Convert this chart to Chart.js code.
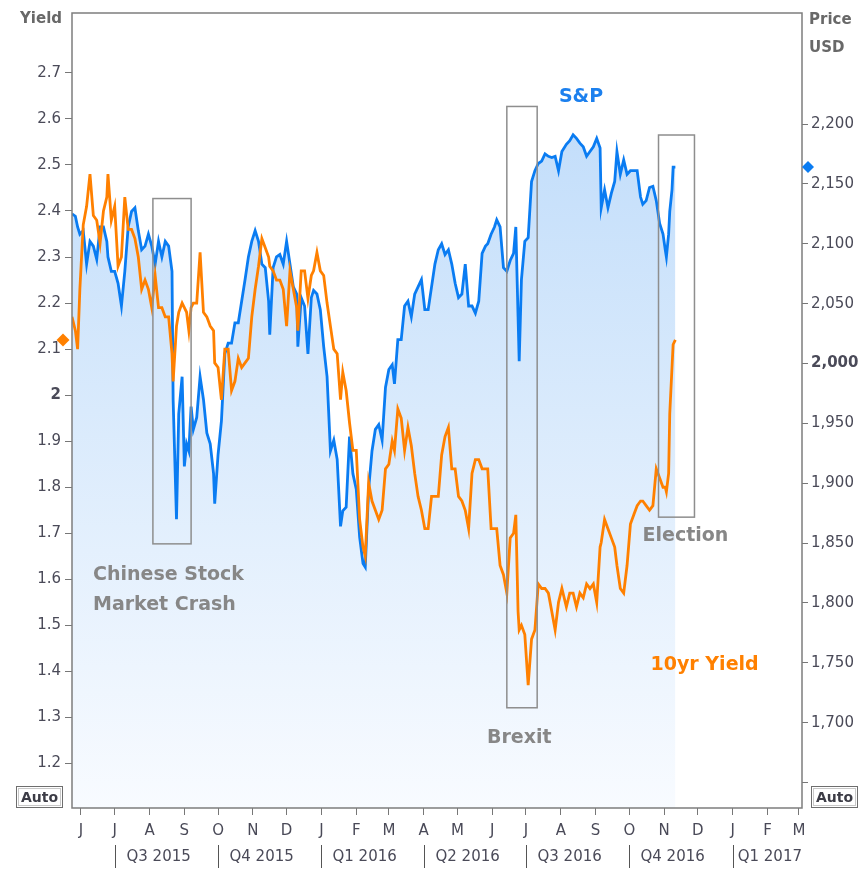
<!DOCTYPE html>
<html>
<head>
<meta charset="utf-8">
<script src="https://cdn.jsdelivr.net/npm/chart.js@4.4.1/dist/chart.umd.min.js"></script>
<style>
  html, body { margin: 0; padding: 0; background: #fff; }
</style>
</head>
<body>
<canvas id="bondChart" width="866" height="869"></canvas>
<script>
// trading days, counted as days from 1 Jun 2015
const dayOffsets = [
  -8, -5, -3, -1, 2, 5, 8, 11, 14, 17, 20, 23, 24, 27, 30, 33, 36, 39, 42, 45,
  48, 51, 54, 57, 60, 63, 66, 69, 72, 75, 78, 81, 82, 85, 87, 90, 92, 94, 96, 98,
  100, 103, 106, 109, 112, 115, 118, 119, 122, 125, 128, 131, 134, 137, 140, 143, 146, 149, 152, 155,
  158, 161, 164, 167, 168, 171, 174, 177, 180, 183, 186, 189, 192, 193, 196, 199, 202, 205, 207,
  210, 213, 216, 219, 222, 225, 228, 231, 233, 236, 239, 242, 245, 248, 251, 253, 256, 259, 262, 265,
  268, 271, 274, 277, 279, 282, 285, 288, 291, 294, 297, 300, 303, 306, 309, 312, 315, 318,
  321, 324, 327, 330, 333, 336, 339, 342, 345, 348, 351, 354, 357, 360, 362, 365, 368, 370, 373, 376,
  379, 382, 385, 387, 389, 390, 392, 395, 398, 401, 404, 407, 410, 413, 416, 419, 422, 425, 428,
  432, 435, 438, 441, 444, 447, 450, 453, 456, 459, 462, 463, 466, 469, 472, 475, 477, 480, 483, 486,
  489, 492, 495, 498, 500, 503, 506, 509, 512, 515, 518, 520, 521, 523, 524, 526, 527, 529
];

// US 10yr Treasury yield, %
const yield10y = [
  2.17, 2.14, 2.10, 2.23, 2.37, 2.41, 2.48, 2.39, 2.38, 2.33, 2.40, 2.43, 2.48, 2.38, 2.41, 2.28, 2.30, 2.43, 2.36, 2.36,
  2.34, 2.30, 2.23, 2.25, 2.23, 2.19, 2.26, 2.19, 2.19, 2.17, 2.17, 2.09, 2.03, 2.15, 2.18, 2.20, 2.19, 2.18, 2.14, 2.19,
  2.20, 2.20, 2.31, 2.18, 2.17, 2.15, 2.14, 2.07, 2.06, 1.99, 2.10, 2.10, 2.01, 2.03, 2.08, 2.06, 2.07, 2.08, 2.17, 2.23,
  2.28, 2.34, 2.32, 2.30, 2.28, 2.27, 2.25, 2.25, 2.23, 2.15, 2.27, 2.23, 2.19, 2.14, 2.27, 2.27, 2.21, 2.26, 2.27,
  2.31, 2.27, 2.26, 2.20, 2.15, 2.10, 2.09, 1.99, 2.05, 2.01, 1.94, 1.88, 1.88, 1.73, 1.67, 1.65, 1.81, 1.77, 1.75, 1.73,
  1.75, 1.84, 1.85, 1.90, 1.88, 1.97, 1.95, 1.88, 1.93, 1.89, 1.83, 1.78, 1.75, 1.71, 1.71, 1.78, 1.78, 1.78,
  1.87, 1.91, 1.93, 1.84, 1.84, 1.78, 1.77, 1.75, 1.71, 1.83, 1.86, 1.86, 1.84, 1.84, 1.84, 1.71, 1.71, 1.71, 1.63, 1.61,
  1.57, 1.69, 1.70, 1.74, 1.53, 1.49, 1.50, 1.48, 1.37, 1.47, 1.49, 1.59, 1.58, 1.58, 1.57, 1.53, 1.49, 1.55, 1.58,
  1.54, 1.57, 1.57, 1.54, 1.57, 1.56, 1.59, 1.58, 1.59, 1.55, 1.67, 1.68, 1.73, 1.71, 1.69, 1.67, 1.63, 1.58, 1.57, 1.63,
  1.72, 1.74, 1.76, 1.77, 1.77, 1.76, 1.75, 1.76, 1.84, 1.82, 1.80, 1.80, 1.79, 1.83, 1.96, 2.06, 2.11, 2.12
];

// S&P 500 close, USD
const spxClose = [
  2125, 2123, 2114, 2108, 2111, 2083, 2102, 2098, 2087, 2114, 2114, 2102, 2089, 2077, 2077, 2067, 2048, 2077, 2114, 2127,
  2130, 2111, 2095, 2098, 2108, 2098, 2083, 2102, 2089, 2102, 2098, 2077, 1970, 1870, 1958, 1989, 1914, 1933, 1927, 1964,
  1945, 1955, 1989, 1970, 1942, 1933, 1908, 1883, 1924, 1952, 2008, 2017, 2017, 2034, 2034, 2052, 2070, 2089, 2102, 2111,
  2102, 2083, 2080, 2052, 2024, 2080, 2089, 2091, 2083, 2102, 2083, 2064, 2058, 2014, 2055, 2048, 2008, 2055, 2061,
  2058, 2045, 2014, 1989, 1927, 1936, 1920, 1864, 1877, 1880, 1939, 1908, 1895, 1855, 1833, 1830, 1895, 1927, 1945, 1949,
  1936, 1980, 1995, 1999, 1983, 2020, 2020, 2048, 2052, 2039, 2058, 2064, 2070, 2045, 2045, 2064, 2083, 2095,
  2100, 2091, 2095, 2083, 2067, 2055, 2058, 2083, 2048, 2048, 2042, 2052, 2092, 2098, 2100, 2108, 2114, 2120, 2114, 2080,
  2077, 2086, 2092, 2114, 2039, 2002, 2070, 2102, 2105, 2152, 2161, 2167, 2169, 2175, 2173, 2172, 2173, 2161, 2177,
  2183, 2186, 2191, 2188, 2184, 2181, 2173, 2177, 2181, 2188, 2180, 2130, 2145, 2130, 2142, 2152, 2177, 2158, 2170, 2158,
  2161, 2161, 2161, 2139, 2133, 2136, 2147, 2148, 2136, 2117, 2108, 2095, 2089, 2108, 2127, 2145, 2164, 2164
];

const monthLabels = ['J', 'J', 'A', 'S', 'O', 'N', 'D', 'J', 'F', 'M', 'A', 'M', 'J', 'J', 'A', 'S', 'O', 'N', 'D', 'J', 'F', 'M'];
const quarterLabels = ['Q3 2015', 'Q4 2015', 'Q1 2016', 'Q2 2016', 'Q3 2016', 'Q4 2016', 'Q1 2017'];
const yieldTicks = [1.2, 1.3, 1.4, 1.5, 1.6, 1.7, 1.8, 1.9, 2, 2.1, 2.2, 2.3, 2.4, 2.5, 2.6, 2.7];
const priceTicks = [1650, 1700, 1750, 1800, 1850, 1900, 1950, 2000, 2050, 2100, 2150, 2200];

// event boxes, in days and yield
const eventBoxes = [
  { from: 64, to: 98, top: 2.427, bottom: 1.677 },
  { from: 379, to: 406, top: 2.627, bottom: 1.321 },
  { from: 514, to: 546, top: 2.565, bottom: 1.735 }
];
const notes = [
  { text: 'Chinese Stock', day: 10.7, level: 1.610, align: 'left', color: '#878787' },
  { text: 'Market Crash', day: 10.7, level: 1.545, align: 'left', color: '#878787' },
  { text: 'S&P', day: 445, level: 2.647, align: 'center', color: '#1c80ee' },
  { text: 'Brexit', day: 390, level: 1.256, align: 'center', color: '#878787' },
  { text: 'Election', day: 538, level: 1.694, align: 'center', color: '#878787' },
  { text: '10yr Yield', day: 555, level: 1.414, align: 'center', color: '#ff8000' }
];

const DAY = 86400000;
const base = Date.UTC(2015, 5, 1);
const monthStarts = monthLabels.map((m, i) => (Date.UTC(2015, 5 + i, 1) - base) / DAY);
const quarterStarts = quarterLabels.map((q, i) => (Date.UTC(2015, 6 + 3 * i, 1) - base) / DAY);

const tickColor = '#4a4a58';
const fontFam = 'DejaVu Sans';

function diamond(ctx, cx, cy, r, color) {
  ctx.fillStyle = color;
  ctx.beginPath();
  ctx.moveTo(cx, cy - r);
  ctx.lineTo(cx + r, cy);
  ctx.lineTo(cx, cy + r);
  ctx.lineTo(cx - r, cy);
  ctx.closePath();
  ctx.fill();
}

function autoBox(ctx, x, y) {
  ctx.strokeStyle = '#6e6e6e';
  ctx.lineWidth = 1;
  ctx.strokeRect(x + 0.5, y + 0.5, 46, 21);
  ctx.strokeStyle = '#c8c8c8';
  ctx.strokeRect(x + 2.5, y + 2.5, 42, 17);
  ctx.fillStyle = '#3c3c46';
  ctx.font = 'bold 14px ' + fontFam;
  ctx.textAlign = 'center';
  ctx.textBaseline = 'middle';
  ctx.fillText('Auto', x + 23.5, y + 12);
}

const overlay = {
  id: 'overlay',
  afterDatasetsDraw(chart) {
    const { ctx, chartArea: a, scales } = chart;
    const x = scales.x, yl = scales.yLeft, yr = scales.yRight;
    ctx.save();

    // plot frame
    ctx.strokeStyle = '#7d7d7d';
    ctx.lineWidth = 1.5;
    ctx.strokeRect(a.left, a.top, a.right - a.left, a.bottom - a.top);

    // event boxes
    ctx.strokeStyle = '#8e8e8e';
    ctx.lineWidth = 1.5;
    eventBoxes.forEach(b => {
      const x0 = x.getPixelForValue(b.from), x1 = x.getPixelForValue(b.to);
      const y0 = yl.getPixelForValue(b.top), y1 = yl.getPixelForValue(b.bottom);
      ctx.strokeRect(x0, y0, x1 - x0, y1 - y0);
    });

    // notes
    ctx.font = 'bold 19px ' + fontFam;
    ctx.textBaseline = 'middle';
    notes.forEach(n => {
      ctx.fillStyle = n.color;
      ctx.textAlign = n.align;
      ctx.fillText(n.text, x.getPixelForValue(n.day), yl.getPixelForValue(n.level));
    });

    // last value markers
    diamond(ctx, a.left - 9, yl.getPixelForValue(yield10y[yield10y.length - 1]), 6.5, '#ff8000');
    diamond(ctx, a.right + 6, yr.getPixelForValue(spxClose[spxClose.length - 1]), 6, '#0a7cf2');

    // quarter row
    ctx.font = '15px ' + fontFam;
    ctx.textAlign = 'left';
    ctx.textBaseline = 'middle';
    ctx.strokeStyle = '#555';
    ctx.lineWidth = 1;
    quarterStarts.forEach((q, i) => {
      const px = Math.round(x.getPixelForValue(q)) + 0.5;
      ctx.beginPath();
      ctx.moveTo(px, 845);
      ctx.lineTo(px, 868);
      ctx.stroke();
      const w = ctx.measureText(quarterLabels[i]).width;
      const tx = Math.min(px + 11, a.right - w);
      ctx.fillStyle = tickColor;
      ctx.fillText(quarterLabels[i], tx, 857);
    });

    // axis titles
    ctx.fillStyle = '#686868';
    ctx.font = 'bold 15px ' + fontFam;
    ctx.textAlign = 'left';
    ctx.fillText('Yield', 20, 19);
    ctx.fillText('Price', 809, 20);
    ctx.fillText('USD', 809, 48);

    autoBox(ctx, 16, 786);
    autoBox(ctx, 811, 786);
    ctx.restore();
  }
};

const ctx = document.getElementById('bondChart');

const bondChart = new Chart(ctx, {
  type: 'line',
  data: {
    datasets: [
      {
        label: '10yr Yield',
        data: dayOffsets.map((d, i) => ({ x: d, y: yield10y[i] })),
        yAxisID: 'yLeft',
        borderColor: '#ff8000',
        borderWidth: 2.8,
        pointRadius: 0,
        fill: false,
        order: 0
      },
      {
        label: 'S&P',
        data: dayOffsets.map((d, i) => ({ x: d, y: spxClose[i] })),
        yAxisID: 'yRight',
        borderColor: '#0a7cf2',
        borderWidth: 2.8,
        pointRadius: 0,
        fill: 'start',
        backgroundColor: c => {
          const area = c.chart.chartArea;
          if (!area) return 'rgba(200,225,250,0.6)';
          const g = c.chart.ctx.createLinearGradient(0, area.top, 0, area.bottom);
          g.addColorStop(0, 'rgb(186,217,250)');
          g.addColorStop(0.5, 'rgb(217,234,252)');
          g.addColorStop(1, 'rgb(248,251,255)');
          return g;
        },
        order: 1
      }
    ]
  },
  options: {
    responsive: false,
    animation: false,
    devicePixelRatio: 1,
    layout: { padding: { top: 6, left: 0, right: 0, bottom: 0 } },
    plugins: {
      legend: { display: false },
      tooltip: { enabled: false }
    },
    scales: {
      x: {
        type: 'linear',
        min: -8,
        max: 641.7,
        afterBuildTicks: s => { s.ticks = monthStarts.map(v => ({ value: v })); },
        afterFit: s => { s.height = 61; },
        ticks: {
          autoSkip: false,
          maxRotation: 0,
          padding: 7,
          color: tickColor,
          font: { family: fontFam, size: 15 },
          callback: (v, i) => monthLabels[i]
        },
        grid: { drawOnChartArea: false, tickLength: 7, color: '#777' },
        border: { display: false }
      },
      yLeft: {
        position: 'left',
        min: 1.1033,
        max: 2.83,
        afterBuildTicks: s => { s.ticks = yieldTicks.map(v => ({ value: v })); },
        afterFit: s => { s.width = 72; },
        ticks: {
          padding: 4,
          color: tickColor,
          font: c => ({ family: fontFam, size: 15, weight: c.tick && c.tick.value === 2 ? 'bold' : 'normal' }),
          callback: v => v === 2 ? '2' : v.toFixed(1)
        },
        grid: { drawOnChartArea: false, tickLength: 7, color: '#777' },
        border: { display: false }
      },
      yRight: {
        position: 'right',
        min: 1628.8,
        max: 2292.7,
        afterBuildTicks: s => { s.ticks = priceTicks.map(v => ({ value: v })); },
        afterFit: s => { s.width = 64; },
        ticks: {
          padding: 3,
          color: tickColor,
          font: c => ({ family: fontFam, size: 15, weight: c.tick && c.tick.value === 2000 ? 'bold' : 'normal' }),
          callback: v => v < 1700 ? '' : v.toLocaleString('en-US')
        },
        grid: { drawOnChartArea: false, tickLength: 6, color: '#777' },
        border: { display: false }
      }
    }
  },
  plugins: [overlay]
});
</script>
</body>
</html>
